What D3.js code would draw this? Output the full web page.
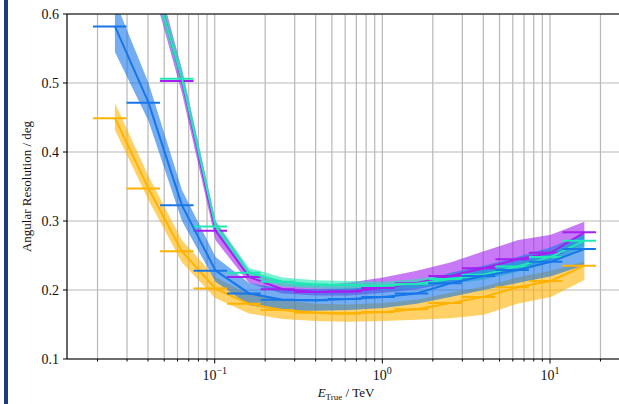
<!DOCTYPE html>
<html><head><meta charset="utf-8">
<script src="https://cdn.jsdelivr.net/npm/d3@7"></script>
<style>
html,body{margin:0;padding:0;background:#fff;}
svg{display:block;}
text{font-family:"Liberation Serif","DejaVu Serif",serif;fill:#111;}
</style></head>
<body><svg id="c" width="619" height="404"></svg>
<script>
// Energy bins (TeV)
const binEdges = [0.0188,0.0298,0.0472,0.0748,0.1186,0.1879,0.2979,0.4721,0.7482,1.186,1.879,2.979,4.721,7.482,11.86,18.79];
const binCenters = [0.0254,0.0403,0.0638,0.1012,0.1603,0.2541,0.4027,0.6383,1.012,1.603,2.541,4.027,6.383,10.12,16.03];
const xTickLabels = [{v:0.1,b:"10",e:"−1"},{v:1,b:"10",e:"0"},{v:10,b:"10",e:"1"}];
const yTicks = [0.1,0.2,0.3,0.4,0.5,0.6];

// series: value, lower band, upper band
const purpleVal = [0.86,0.68,0.503,0.286,0.219,0.201,0.197,0.198,0.203,0.210,0.2203,0.2314,0.2445,0.254,0.2836];
const purpleLo  = [0.84,0.66,0.485,0.272,0.210,0.195,0.192,0.192,0.196,0.201,0.210,0.220,0.232,0.244,0.270];
const purpleHi  = [0.88,0.70,0.520,0.300,0.228,0.210,0.207,0.211,0.218,0.228,0.240,0.256,0.272,0.280,0.299];

const orangeVal = [0.449,0.347,0.256,0.202,0.180,0.171,0.167,0.166,0.168,0.172,0.181,0.190,0.204,0.213,0.2353];
const orangeLo  = [0.432,0.330,0.240,0.188,0.166,0.158,0.155,0.154,0.155,0.157,0.159,0.164,0.180,0.190,0.2145];
const orangeHi  = [0.471,0.365,0.272,0.218,0.194,0.185,0.180,0.179,0.181,0.186,0.196,0.205,0.218,0.228,0.241];

const cyanVal = [0.85,0.675,0.506,0.292,0.225,0.212,0.208,0.207,0.206,0.209,0.216,0.222,0.234,0.248,0.2715];
const cyanLo  = [0.83,0.66,0.495,0.285,0.218,0.205,0.202,0.201,0.200,0.203,0.209,0.215,0.226,0.240,0.263];
const cyanHi  = [0.87,0.69,0.520,0.300,0.232,0.218,0.214,0.213,0.212,0.216,0.223,0.229,0.241,0.256,0.280];

const blueVal = [0.582,0.4715,0.3227,0.228,0.195,0.186,0.185,0.187,0.190,0.195,0.2097,0.2203,0.229,0.241,0.2594];
const blueLo  = [0.545,0.445,0.300,0.212,0.178,0.170,0.170,0.171,0.174,0.180,0.190,0.200,0.210,0.220,0.236];
const blueHi  = [0.620,0.500,0.345,0.248,0.210,0.202,0.201,0.202,0.205,0.210,0.225,0.235,0.248,0.262,0.282];

const series = [
  {name:"purple", color:"#a41ff0", val:purpleVal, lo:purpleLo, hi:purpleHi},
  {name:"orange", color:"#ffb300", val:orangeVal, lo:orangeLo, hi:orangeHi},
  {name:"cyan",   color:"#1fe8b6", val:cyanVal,   lo:cyanLo,   hi:cyanHi},
  {name:"blue",   color:"#1877e8", val:blueVal,   lo:blueLo,   hi:blueHi}
];

const svg = d3.select("#c");
const L = 67, T = 14, B = 359, R = 640;
const x = d3.scaleLog().domain([0.1,10]).range([214.7,550]);
const y = d3.scaleLinear().domain([0.1,0.6]).range([B,T]);

// left border strip
svg.append("rect").attr("x",4).attr("y",0).attr("width",4).attr("height",404).attr("fill","#1f3a7c");

svg.append("defs").append("clipPath").attr("id","clip")
  .append("rect").attr("x",L).attr("y",T).attr("width",R-L).attr("height",B-T);

// grid
const minor = [];
for (let d=-2; d<=1; d++) for (let m=1; m<=9; m++) {
  const v = m*Math.pow(10,d);
  if (x(v) > L+0.5 && x(v) < R) minor.push(v);
}
const g = svg.append("g");
g.selectAll("line.gx").data(minor).join("line")
  .attr("x1",d=>x(d)).attr("x2",d=>x(d)).attr("y1",T).attr("y2",B)
  .attr("stroke","#b8b8b8").attr("stroke-width",1.2);
g.selectAll("line.gy").data(yTicks).join("line")
  .attr("x1",L).attr("x2",R).attr("y1",d=>y(d)).attr("y2",d=>y(d))
  .attr("stroke","#b8b8b8").attr("stroke-width",1.2);

const plot = svg.append("g").attr("clip-path","url(#clip)");
const area = d3.area().x((d,i)=>x(binCenters[i])).y0(d=>y(d[0])).y1(d=>y(d[1]));
const line = d3.line().x((d,i)=>x(binCenters[i])).y(d=>y(d));

series.forEach(s=>{
  plot.append("path").datum(s.lo.map((v,i)=>[v,s.hi[i]]))
    .attr("d",area).attr("fill",s.color).attr("fill-opacity",0.6).attr("stroke","none");
});
series.forEach(s=>{
  plot.append("path").datum(s.val).attr("d",line)
    .attr("fill","none").attr("stroke",s.color).attr("stroke-width",2);
  plot.selectAll(null).data(s.val).join("line")
    .attr("x1",(d,i)=>x(binEdges[i])).attr("x2",(d,i)=>x(binEdges[i+1]))
    .attr("y1",d=>y(d)).attr("y2",d=>y(d))
    .attr("stroke",s.color).attr("stroke-width",2);
});

// spines
svg.append("line").attr("x1",L).attr("x2",R).attr("y1",T).attr("y2",T).attr("stroke","#000").attr("stroke-width",1.2);
svg.append("line").attr("x1",L).attr("x2",R).attr("y1",B).attr("y2",B).attr("stroke","#000").attr("stroke-width",1.2);
svg.append("line").attr("x1",L).attr("x2",L).attr("y1",T).attr("y2",B).attr("stroke","#000").attr("stroke-width",1.2);

// y ticks
yTicks.forEach(t=>{
  svg.append("line").attr("x1",L-4).attr("x2",L).attr("y1",y(t)).attr("y2",y(t)).attr("stroke","#000");
  svg.append("text").attr("x",L-8).attr("y",y(t)).attr("dy","0.35em")
    .attr("text-anchor","end").attr("font-size",14).text(t.toFixed(1));
});
// x ticks
minor.forEach(v=>{
  const major = Math.abs(Math.log10(v)-Math.round(Math.log10(v)))<1e-9;
  svg.append("line").attr("x1",x(v)).attr("x2",x(v)).attr("y1",B).attr("y2",B+(major?4.5:2.5)).attr("stroke","#000");
});
xTickLabels.forEach(t=>{
  const tx = svg.append("text").attr("x",x(t.v)).attr("y",B+21).attr("text-anchor","middle").attr("font-size",14);
  tx.append("tspan").text(t.b);
  tx.append("tspan").attr("dy",-6).attr("font-size",10).text(t.e);
});
// axis labels
const xl = svg.append("text").attr("x",346).attr("y",397).attr("text-anchor","middle").attr("font-size",13);
xl.append("tspan").attr("font-style","italic").text("E");
xl.append("tspan").attr("dy",2.5).attr("font-size",9).text("True");
xl.append("tspan").attr("dy",-2.5).text(" / TeV");
svg.append("text").attr("transform","translate(31,186.5) rotate(-90)")
  .attr("text-anchor","middle").attr("font-size",13).text("Angular Resolution / deg");
</script></body></html>
